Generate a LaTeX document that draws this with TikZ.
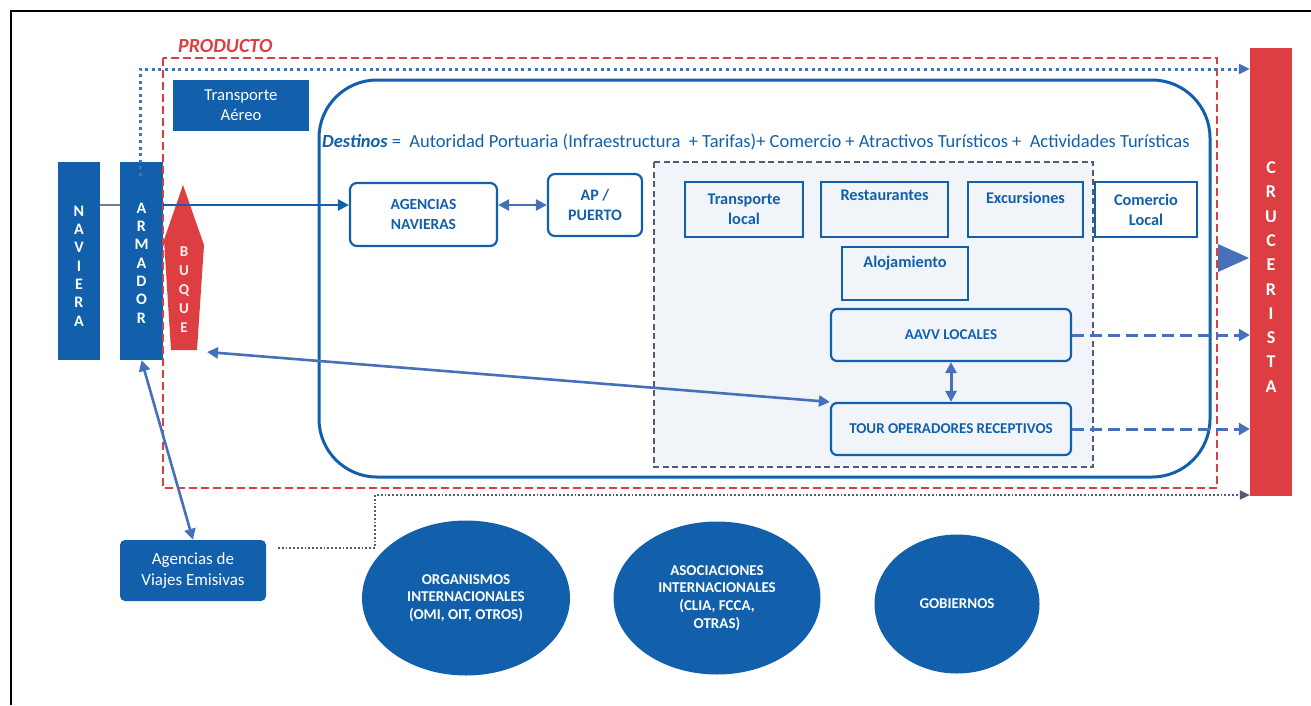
\documentclass[tikz,border=0pt]{standalone}
\usepackage{fontspec}
\setmainfont{Carlito}
\usetikzlibrary{arrows.meta,shapes.geometric,calc}
\definecolor{mblue}{RGB}{18,96,172}
\definecolor{mred}{RGB}{221,62,66}
\definecolor{lblue}{RGB}{70,112,186}
\definecolor{dgrey}{RGB}{80,92,116}
\definecolor{lfill}{RGB}{241,244,248}
\tikzset{
  filledbox/.style={fill=mblue,draw=none,text=white,align=center,inner sep=0pt},
  vletters/.style={text=white,font=\bfseries\fontsize{16}{18.3}\selectfont,align=center},
  roundbox/.style={draw=mblue,line width=2.2pt,rounded corners=7pt,fill=white,text=mblue,align=center,font=\bfseries\fontsize{15}{20}\selectfont,inner sep=0pt},
  smallbox/.style={draw=mblue,line width=1.3pt,text=mblue,align=center,font=\bfseries\fontsize{16.3}{20}\selectfont,inner sep=0pt},
  orgell/.style={ellipse,fill=mblue,draw=none,text=white,align=center,font=\bfseries\fontsize{15}{17.7}\selectfont,inner sep=0pt},
  conn/.style={draw=lblue,line width=2.6pt},
  tip/.style={-{Triangle[length=11pt,width=11pt]}},
  dtip/.style={{Triangle[length=11pt,width=11pt]}-{Triangle[length=11pt,width=11pt]}},
  dashconn/.style={draw=lblue,line width=3pt,dash pattern=on 12pt off 6pt,-{Triangle[length=11pt,width=12pt]}},
  dotconn/.style={draw=lblue,line width=3pt,dash pattern=on 3pt off 3.6pt,-{Triangle[length=11pt,width=10pt]}},
  finedot/.style={draw=dgrey,line width=1.8pt,dash pattern=on 1.8pt off 2pt,-{Triangle[length=10pt,width=9pt]}},
}
\begin{document}
\begin{tikzpicture}[x=1pt,y=-1pt]
\useasboundingbox (0,0) rectangle (1311,705);
\fill[white] (0,0) rectangle (1311,705);
% frame
\draw[black,line width=1.5pt] (11,705) -- (11,11) -- (1311,11);

% big destination rounded frame
\draw[mblue,line width=3pt,rounded corners=58pt] (319,80) rectangle (1210,477);

% grey dashed area
\draw[dgrey,fill=lfill,line width=1.7pt,dash pattern=on 6pt off 3.5pt] (654,162) rectangle (1093,467);

% left boxes
\node[filledbox,minimum width=42pt,minimum height=198pt] (nav) at (79,261) {};
\node[vletters] at (79,266) {N\\A\\V\\I\\E\\R\\A};
\node[filledbox,minimum width=43pt,minimum height=198pt] (arm) at (141.5,261) {};
\node[vletters] at (141.5,263) {A\\R\\M\\A\\D\\O\\R};

% buque
\fill[mred] (183,185) -- (204,245) -- (197,350) -- (171,350) -- (164,240) -- cycle;
\node[text=white!92!mred,font=\bfseries\fontsize{15}{19}\selectfont,align=center] (buq) at (184,290) {B\\U\\Q\\U\\E};
\coordinate (buqc) at (207,352);

% transporte aereo
\node[filledbox,minimum width=136pt,minimum height=51pt,font=\fontsize{16.7}{20}\selectfont] (ta) at (241,105.5) {Transporte\\Aéreo};

% producto label and frame
\node[text=mred,font=\bfseries\itshape\fontsize{20}{22}\selectfont,anchor=west,inner sep=0pt] (prod) at (178,46) {PRODUCTO};
\draw[mred,line width=1.9pt,dash pattern=on 8pt off 4pt] (163,58) rectangle (1217,488);

% destinos text
\node[text=mblue,anchor=west,font=\fontsize{18.5}{20}\selectfont,inner sep=0pt] (dest) at (322,142) {\textbf{\textit{Destinos}} =\ \ Autoridad Portuaria (Infraestructura\ \ + Tarifas)+ Comercio + Atractivos Turísticos +\ \ Actividades Turísticas};

% agencias navieras and AP
\node[roundbox,minimum width=147pt,minimum height=63pt,font=\bfseries\fontsize{15.5}{20}\selectfont] (agn) at (423.5,214.5) {AGENCIAS\\NAVIERAS};
\node[roundbox,minimum width=94pt,minimum height=62pt,font=\bfseries\fontsize{16}{20}\selectfont] (ap) at (595,205) {AP /\\PUERTO};

% small boxes
\node[smallbox,minimum width=118pt,minimum height=55pt] (tl) at (744,209.5) {Transporte\\local};
\node[smallbox,minimum width=127pt,minimum height=55pt] (res) at (884.5,209.5) {Restaurantes\\[2pt]\strut};
\node[smallbox,minimum width=115pt,minimum height=55pt] (exc) at (1025.5,209.5) {Excursiones\\[-3pt]\strut};
\node[smallbox,minimum width=102pt,minimum height=55pt] (com) at (1146,209.5) {Comercio\\Local};
\node[smallbox,minimum width=126pt,minimum height=53pt] (alo) at (905,273.5) {Alojamiento\\[-2pt]\strut};

% AAVV and tour
\node[roundbox,fill=lfill,minimum width=240pt,minimum height=52pt,rounded corners=6pt] (aavv) at (951,335) {AAVV LOCALES};
\node[roundbox,fill=lfill,minimum width=240pt,minimum height=52pt,rounded corners=6pt] (tour) at (951,429) {TOUR OPERADORES RECEPTIVOS};

% crucerista
\node[fill=mred,minimum width=42pt,minimum height=448pt,inner sep=0pt] (cru) at (1271,272) {};
\node[text=white,font=\bfseries\fontsize{18}{24.3}\selectfont,align=center] at (1271,277) {C\\R\\U\\C\\E\\R\\I\\S\\T\\A};

% agencias de viajes emisivas
\node[filledbox,minimum width=146pt,minimum height=61pt,rounded corners=5pt,font=\fontsize{17}{21}\selectfont] (agv) at (193,570.5) {Agencias de\\Viajes Emisivas};

% ellipses
\node[orgell,minimum width=208pt,minimum height=155pt] (org) at (466,598) {ORGANISMOS\\INTERNACIONALES\\(OMI, OIT, OTROS)};
\node[orgell,minimum width=207pt,minimum height=153pt] (aso) at (717,598) {ASOCIACIONES\\INTERNACIONALES\\(CLIA, FCCA,\\OTRAS)};
\node[orgell,minimum width=165pt,minimum height=139pt] (gob) at (957,604) {GOBIERNOS};

% connectors
\coordinate (y205) at (0,205);
\coordinate (dtop) at (140,69);
\coordinate (dstart) at (140,176);
\draw[draw=dgrey!80,line width=2.2pt] (nav.east |- y205) -- (arm.west |- y205);
\draw[draw=mblue,line width=2.6pt,tip] (arm.east |- y205) -- (agn.west |- y205);
\draw[conn,dtip] (agn.east |- y205) -- (ap.west |- y205);
\draw[conn,dtip] (buqc) -- (tour.north west);
\draw[conn,line width=3pt,dtip] (aavv.south) -- (tour.north);
\draw[conn,dtip] (arm.south) -- (agv.north);
\draw[dashconn] (aavv.east) -- (cru.west |- aavv.east);
\draw[dashconn] (tour.east) -- (cru.west |- tour.east);
\draw[draw=none,fill=lblue] (1218,244) -- (1249,258) -- (1218,272) -- cycle;
\draw[dotconn] (dstart) -- (dtop) -- (cru.west |- dtop);
\coordinate (bd1) at (278,548);
\coordinate (bd2) at (375,548);
\coordinate (bd3) at (375,495);
\draw[finedot] (bd1) -- (bd2) -- (bd3) -- (cru.west |- bd3);
\end{tikzpicture}
\end{document}
